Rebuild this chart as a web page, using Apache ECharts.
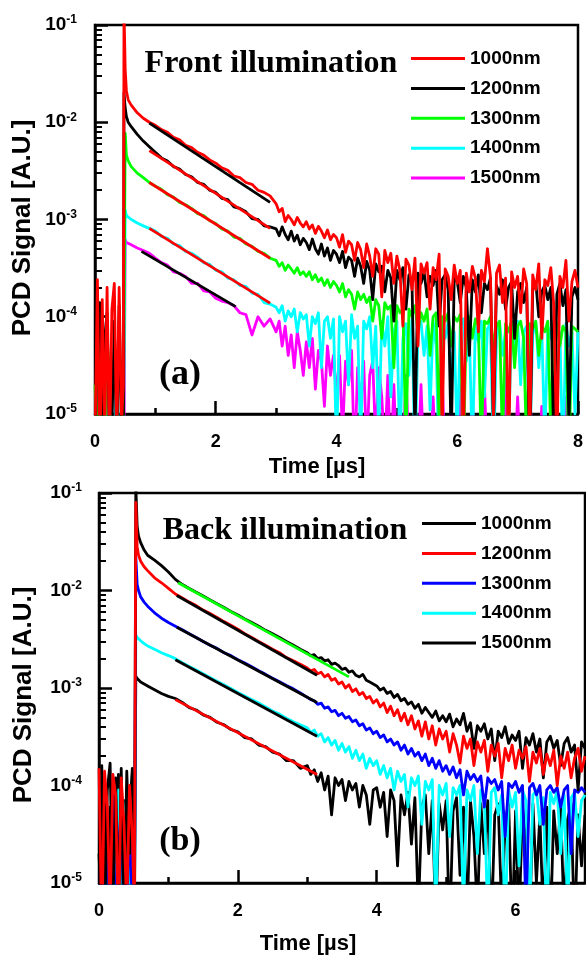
<!DOCTYPE html>
<html>
<head>
<meta charset="utf-8">
<script src="https://cdn.jsdelivr.net/npm/echarts@6/dist/echarts.min.js"></script>
<style>
  html, body { margin: 0; padding: 0; background: #fff; }
  #pcd { width: 586px; height: 956px; }
</style>
</head>
<body>
<div id="pcd"></div>
<script>
// wavelengths shown in both legends
const waveLabels = ['1000nm', '1200nm', '1300nm', '1400nm', '1500nm']

// log axis ticks (A.U.)
const yMajor = [1e-5, 1e-4, 1e-3, 1e-2, 1e-1]
const yMinor = [
  2e-5, 3e-5, 4e-5, 5e-5, 6e-5, 7e-5, 8e-5, 9e-5,
  2e-4, 3e-4, 4e-4, 5e-4, 6e-4, 7e-4, 8e-4, 9e-4,
  2e-3, 3e-3, 4e-3, 5e-3, 6e-3, 7e-3, 8e-3, 9e-3,
  2e-2, 3e-2, 4e-2, 5e-2, 6e-2, 7e-2, 8e-2, 9e-2
]
const xMajorA = [0, 2, 4, 6, 8]
const xMinorA = [1, 3, 5, 7]
const xMajorB = [0, 2, 4, 6]
const xMinorB = [1, 3, 5]

// ---------- (a) front illumination, time in us ----------
const timesA = [
  0, 0.04, 0.08, 0.12, 0.16, 0.2, 0.24, 0.28, 0.32, 0.36, 0.4, 0.44, 0.47,
  0.48, 0.5, 0.52, 0.55, 0.6, 0.7, 0.8, 0.9,
  1.0, 1.1, 1.2, 1.3, 1.4, 1.5, 1.6, 1.7, 1.8, 1.9, 2.0, 2.1, 2.2, 2.3, 2.4, 2.5, 2.6, 2.7, 2.8, 2.9,
  3.0, 3.05, 3.1, 3.15, 3.2, 3.25, 3.3, 3.35, 3.4, 3.45,
  3.5, 3.55, 3.6, 3.65, 3.7, 3.75, 3.8, 3.85, 3.9, 3.95,
  4.0, 4.05, 4.1, 4.15, 4.2, 4.25, 4.3, 4.35, 4.4, 4.45,
  4.5, 4.55, 4.6, 4.65, 4.7, 4.75, 4.8, 4.85, 4.9, 4.95,
  5.0, 5.05, 5.1, 5.15, 5.2, 5.25, 5.3, 5.35, 5.4, 5.45,
  5.5, 5.55, 5.6, 5.65, 5.7, 5.75, 5.8, 5.85, 5.9, 5.95,
  6.0, 6.05, 6.1, 6.15, 6.2, 6.25, 6.3, 6.35, 6.4, 6.45,
  6.5, 6.55, 6.6, 6.65, 6.7, 6.75, 6.8, 6.85, 6.9, 6.95,
  7.0, 7.05, 7.1, 7.15, 7.2, 7.25, 7.3, 7.35, 7.4, 7.45,
  7.5, 7.55, 7.6, 7.65, 7.7, 7.75, 7.8, 7.85, 7.9, 7.95,
  8.0
]
const front1000 = [
  5e-6, 2.4e-4, 3e-6, 1.5e-4, 6e-6, 2e-4, 4e-6, 1.2e-4, 2.2e-4, 5e-6, 2e-4, 8e-6, 2e-5,
  0.15, 3.5e-2, 2.1e-2, 1.7e-2, 1.5e-2, 1.25e-2, 1.1e-2, 1.0e-2,
  9.3e-3, 8.4e-3, 7.9e-3, 7.0e-3, 6.6e-3, 5.8e-3, 5.5e-3, 4.9e-3, 4.6e-3, 4.1e-3,
  3.8e-3, 3.4e-3, 3.2e-3, 2.8e-3, 2.7e-3, 2.4e-3, 2.3e-3, 2.0e-3, 1.9e-3, 1.75e-3,
  1.45e-3, 1.2e-3, 1.3e-3, 9.5e-4, 1.1e-3, 1.0e-3, 8.8e-4, 1.05e-3, 9.2e-4, 8.4e-4,
  9.5e-4, 8.0e-4, 8.8e-4, 7.2e-4, 8.5e-4, 7.6e-4, 6.5e-4, 7.8e-4, 6.2e-4, 7.0e-4,
  6.5e-4, 5.2e-4, 7.0e-4, 4.6e-4, 6.0e-4, 5.5e-4, 3.8e-4, 5.8e-4, 4.9e-4, 3.2e-4,
  5.6e-4, 4.2e-4, 2.6e-4, 5.0e-4, 4.4e-4, 1.6e-4, 4.8e-4, 3.6e-4, 4.5e-4, 2.2e-4,
  4.2e-4, 3.0e-4, 8e-5, 3.9e-4, 3.4e-4, 1.9e-4, 4.0e-4, 5e-5, 3.5e-4, 2.8e-4,
  3.6e-4, 1.2e-4, 3.2e-4, 2.4e-4, 4.4e-4, 6e-6, 3.1e-4, 2.6e-4, 1.5e-4, 3.4e-4,
  2.2e-4, 3.0e-4, 4e-6, 2.8e-4, 1.8e-4, 3.3e-4, 2.5e-4, 7e-5, 3.0e-4, 2.3e-4,
  5.0e-4, 2.6e-4, 9e-6, 2.8e-4, 3.4e-4, 1.4e-4, 2.5e-4, 3e-6, 2.9e-4, 2.0e-4,
  2.6e-4, 1.1e-4, 3.1e-4, 2.2e-4, 5e-6, 2.7e-4, 1.9e-4, 3.5e-4, 6e-5, 2.4e-4,
  2.1e-4, 3.2e-4, 1.3e-4, 4e-6, 2.6e-4, 2.0e-4, 3.8e-4, 9e-5, 2.3e-4, 3.0e-4,
  2.0e-4
]
const front1200 = [
  3e-6, 8e-5, 1.4e-4, 4e-6, 6e-5, 1.1e-4, 5e-6, 7e-6, 9e-5, 4e-6, 1.3e-4, 6e-6, 3e-6,
  2e-2, 1.4e-2, 1.15e-2, 1.0e-2, 9e-3, 7.5e-3, 6.4e-3, 5.6e-3,
  4.9e-3, 4.3e-3, 4.0e-3, 3.5e-3, 3.3e-3, 2.9e-3, 2.75e-3, 2.4e-3, 2.3e-3, 2.0e-3,
  1.9e-3, 1.65e-3, 1.6e-3, 1.35e-3, 1.3e-3, 1.2e-3, 1.02e-3, 1.0e-3, 8.6e-4, 8.4e-4,
  8.0e-4, 6.8e-4, 8.4e-4, 7.0e-4, 6.2e-4, 7.6e-4, 6.0e-4, 6.9e-4, 5.5e-4, 6.4e-4,
  5.8e-4, 4.9e-4, 6.3e-4, 5.0e-4, 4.4e-4, 5.6e-4, 4.2e-4, 5.1e-4, 3.8e-4, 4.8e-4,
  4.4e-4, 3.6e-4, 4.7e-4, 3.2e-4, 4.1e-4, 3.8e-4, 2.6e-4, 4.0e-4, 3.3e-4, 2.2e-4,
  3.7e-4, 3.0e-4, 1.5e-4, 3.5e-4, 2.9e-4, 3.3e-4, 1.8e-4, 3.0e-4, 2.5e-4, 9e-5,
  3.0e-4, 2.4e-4, 3.2e-4, 1.2e-4, 2.7e-4, 2.3e-4, 6e-6, 2.8e-4, 2.2e-4, 2.9e-4,
  1.6e-4, 2.6e-4, 2.1e-4, 3.0e-4, 8e-5, 2.4e-4, 2.7e-4, 1.9e-4, 5e-6, 2.5e-4,
  2.3e-4, 1.4e-4, 2.6e-4, 2.0e-4, 4e-5, 2.4e-4, 1.8e-4, 2.7e-4, 1.1e-4, 2.2e-4,
  1.9e-4, 2.5e-4, 7e-6, 2.1e-4, 1.7e-4, 2.4e-4, 1.2e-4, 2.0e-4, 2.3e-4, 6e-5,
  1.8e-4, 2.2e-4, 1.4e-4, 2.0e-4, 3e-6, 1.9e-4, 2.3e-4, 1.0e-4, 1.8e-4, 2.1e-4,
  1.5e-4, 2.0e-4, 4e-6, 1.7e-4, 2.2e-4, 1.3e-4, 1.9e-4, 8e-6, 1.6e-4, 2.0e-4,
  1.5e-4
]
const front1300 = [
  2e-5, 4e-6, 5e-5, 8e-6, 3e-6, 6e-5, 2.5e-5, 4e-6, 3e-6, 7e-6, 4e-5, 3e-5, 6e-6,
  6e-6, 7.7e-3, 4.6e-3, 4.0e-3, 3.5e-3, 3.0e-3, 2.7e-3, 2.4e-3,
  2.2e-3, 2.05e-3, 1.8e-3, 1.7e-3, 1.5e-3, 1.42e-3, 1.3e-3, 1.15e-3, 1.1e-3, 9.7e-4,
  9.1e-4, 8.0e-4, 7.6e-4, 6.6e-4, 6.4e-4, 5.6e-4, 5.3e-4, 4.7e-4, 4.5e-4, 4.0e-4,
  3.8e-4, 3.3e-4, 3.6e-4, 3.0e-4, 3.4e-4, 3.1e-4, 2.8e-4, 3.2e-4, 2.7e-4, 2.9e-4,
  2.6e-4, 2.9e-4, 2.4e-4, 2.7e-4, 2.3e-4, 2.5e-4, 2.1e-4, 2.4e-4, 2.0e-4, 2.3e-4,
  2.1e-4, 1.8e-4, 2.2e-4, 1.6e-4, 1.9e-4, 1.7e-4, 1.2e-4, 1.8e-4, 1.5e-4, 1.7e-4,
  1.4e-4, 1.6e-4, 9e-5, 1.5e-4, 1.3e-4, 6e-5, 1.4e-4, 1.2e-4, 1.3e-4, 3e-5,
  1.3e-4, 1.1e-4, 1.2e-4, 5e-6, 1.2e-4, 1.0e-4, 1.3e-4, 7e-5, 1.1e-4, 9e-5,
  1.2e-4, 4e-5, 1.0e-4, 1.1e-4, 8e-6, 1.0e-4, 9e-5, 1.1e-4, 5e-5, 1.0e-4,
  9e-5, 1.05e-4, 3e-6, 9e-5, 1.0e-4, 6e-5, 9.5e-5, 8e-5, 4e-6, 9e-5,
  8.5e-5, 1.0e-4, 5e-5, 8e-5, 9e-5, 5e-6, 8.5e-5, 7e-5, 9e-5, 3e-5,
  8e-5, 9e-5, 6e-5, 4e-6, 8.5e-5, 7.5e-5, 9e-5, 4e-5, 8e-5, 7e-5,
  9e-5, 6e-6, 7.5e-5, 8.5e-5, 5e-5, 8e-5, 7e-5, 3e-6, 8e-5, 7.5e-5,
  7e-5
]
const front1400 = [
  3e-6, 3e-5, 1.5e-5, 4e-6, 4e-5, 5e-6, 2e-5, 3e-6, 6e-6, 2.5e-5, 4e-6, 3e-6, 5e-6,
  5e-6, 1.25e-3, 1.1e-3, 1.05e-3, 1.0e-3, 9.2e-4, 8.6e-4, 8.1e-4,
  7.6e-4, 6.7e-4, 6.4e-4, 5.6e-4, 5.4e-4, 4.7e-4, 4.5e-4, 4.1e-4, 3.6e-4, 3.45e-4,
  3.0e-4, 2.9e-4, 2.5e-4, 2.4e-4, 2.1e-4, 2.05e-4, 1.75e-4, 1.7e-4, 1.4e-4, 1.35e-4,
  1.25e-4, 1.1e-4, 1.3e-4, 9e-5, 1.15e-4, 1.0e-4, 1.2e-4, 7e-5, 1.1e-4, 9.5e-5,
  1.05e-4, 5e-5, 1.0e-4, 8.5e-5, 1.1e-4, 3e-5, 9e-5, 1.0e-4, 6e-5, 9.5e-5,
  4e-6, 1.0e-4, 7e-5, 9e-5, 2e-5, 1.05e-4, 6e-5, 8e-5, 5e-6, 9e-5,
  7.5e-5, 1e-4, 3e-5, 8e-5, 6e-6, 9e-5, 5e-5, 1.0e-4, 1.5e-5, 7e-5,
  9e-5, 4e-6, 6e-5, 8.5e-5, 2.5e-5, 9.5e-5, 3e-6, 7e-5, 9e-5, 4e-5,
  8e-5, 1.1e-5, 9e-5, 5e-5, 3e-6, 8.5e-5, 6e-5, 9e-5, 2e-5, 7e-5,
  5e-6, 8e-5, 9.5e-5, 3.5e-5, 7e-5, 4e-6, 8e-5, 5.5e-5, 9e-5, 1.5e-5,
  7.5e-5, 8.5e-5, 3e-6, 6e-5, 9e-5, 4e-5, 7e-5, 6e-6, 8e-5, 5e-5,
  9e-5, 2e-5, 7e-5, 8e-5, 4e-6, 6.5e-5, 9e-5, 3e-5, 7.5e-5, 5e-6,
  8e-5, 6e-5, 9e-5, 2.5e-5, 7e-5, 3e-6, 8.5e-5, 5e-5, 7e-5, 1e-5,
  7e-5
]
const front1500 = [
  3e-6, 3e-6, 3e-6, 3e-6, 3e-6, 3e-6, 3e-6, 3e-6, 3e-6, 2e-5, 3e-6, 3e-6, 3e-6,
  4e-6, 6.2e-4, 5.8e-4, 5.7e-4, 5.5e-4, 5.1e-4, 4.8e-4, 4.5e-4,
  4.0e-4, 3.6e-4, 3.4e-4, 2.9e-4, 2.8e-4, 2.6e-4, 2.2e-4, 2.2e-4, 1.85e-4, 1.8e-4,
  1.55e-4, 1.45e-4, 1.4e-4, 1.3e-4, 1.1e-4, 1.05e-4, 6.5e-5, 1.0e-4, 8e-5, 9.5e-5,
  7e-5, 9e-5, 5e-5, 8e-5, 4e-5, 6.5e-5, 3e-5, 7e-5, 4.5e-5, 2.5e-5,
  5.5e-5, 3e-5, 6e-5, 1.8e-5, 4.5e-5, 3.5e-5, 1.2e-5, 5e-5, 2.5e-5, 4e-5,
  1.5e-5, 4e-5, 6e-6, 3.5e-5, 2e-5, 4.5e-5, 3e-6, 3e-5, 1.2e-5, 3.5e-5,
  4e-6, 2.5e-5, 3.5e-5, 5e-6, 3e-5, 1.5e-5, 4e-6, 2.5e-5, 3e-6, 2e-5,
  3e-6, 1.5e-5, 3e-6, 2.5e-5, 4e-6, 3e-6, 1.2e-5, 3e-6, 2e-5, 3e-6,
  3e-6, 3e-6, 1.5e-5, 3e-6, 3e-6, 2.5e-5, 3e-6, 3e-6, 1.2e-5, 3e-6,
  3e-6, 2e-5, 3e-6, 3e-6, 3e-6, 1.5e-5, 3e-6, 3e-6, 3e-6, 2e-5,
  3e-6, 3e-6, 1.2e-5, 3e-6, 3e-6, 3e-6, 2.5e-5, 3e-6, 3e-6, 3e-6,
  1.5e-5, 3e-6, 3e-6, 3e-6, 2e-5, 3e-6, 3e-6, 3e-6, 1.2e-5, 3e-6,
  3e-6, 3e-6, 2e-5, 3e-6, 3e-6, 3e-6, 1.5e-5, 3e-6, 3e-6, 3e-6,
  3e-6
]
// straight fits drawn over the (a) traces: [t, signal]
const fitFront1000 = [[0.9, 9.8e-3], [2.9, 1.5e-3]]
const fitFront1200 = [[0.9, 5.1e-3], [2.9, 8.1e-4]]
const fitFront1300 = [[0.9, 2.4e-3], [2.9, 4.0e-4]]
const fitFront1400 = [[0.9, 8.1e-4], [2.9, 1.38e-4]]
const fitFront1500 = [[0.77, 4.7e-4], [2.33, 1.27e-4]]

// ---------- (b) back illumination ----------
const timesB = [
  0, 0.04, 0.08, 0.12, 0.16, 0.2, 0.24, 0.28, 0.32, 0.36, 0.4, 0.44, 0.48, 0.51,
  0.53, 0.55, 0.57, 0.6, 0.65, 0.7, 0.8, 0.9, 1.0,
  1.1, 1.2, 1.3, 1.4, 1.5, 1.6, 1.7, 1.8, 1.9, 2.0, 2.1, 2.2, 2.3, 2.4, 2.5, 2.6, 2.7, 2.8, 2.9,
  3.0, 3.05, 3.1, 3.15, 3.2, 3.25, 3.3, 3.35, 3.4, 3.45,
  3.5, 3.55, 3.6, 3.65, 3.7, 3.75, 3.8, 3.85, 3.9, 3.95,
  4.0, 4.05, 4.1, 4.15, 4.2, 4.25, 4.3, 4.35, 4.4, 4.45,
  4.5, 4.55, 4.6, 4.65, 4.7, 4.75, 4.8, 4.85, 4.9, 4.95,
  5.0, 5.05, 5.1, 5.15, 5.2, 5.25, 5.3, 5.35, 5.4, 5.45,
  5.5, 5.55, 5.6, 5.65, 5.7, 5.75, 5.8, 5.85, 5.9, 5.95,
  6.0, 6.05, 6.1, 6.15, 6.2, 6.25, 6.3, 6.35, 6.4, 6.45,
  6.5, 6.55, 6.6, 6.65, 6.7, 6.75, 6.8, 6.85, 6.9, 6.95,
  7.0
]
const back1000 = [
  4e-6, 1.6e-4, 3e-6, 9e-5, 1.7e-4, 5e-6, 1.2e-4, 4e-6, 1.5e-4, 3e-6, 1.4e-4, 2e-5, 1.3e-4, 4e-6,
  0.12, 4.5e-2, 3.6e-2, 3.1e-2, 2.6e-2, 2.3e-2, 2.05e-2, 1.8e-2, 1.55e-2,
  1.3e-2, 1.15e-2, 1.05e-2, 9.6e-3, 8.8e-3, 8.0e-3, 7.3e-3, 6.7e-3, 6.1e-3, 5.6e-3,
  5.1e-3, 4.7e-3, 4.3e-3, 3.9e-3, 3.6e-3, 3.3e-3, 3.0e-3, 2.75e-3, 2.5e-3,
  2.3e-3, 2.15e-3, 2.2e-3, 2.0e-3, 2.05e-3, 1.9e-3, 1.95e-3, 1.75e-3, 1.8e-3, 1.7e-3,
  1.55e-3, 1.6e-3, 1.45e-3, 1.5e-3, 1.35e-3, 1.3e-3, 1.38e-3, 1.2e-3, 1.15e-3, 1.1e-3,
  1.05e-3, 9.5e-4, 1.0e-3, 8.8e-4, 9.2e-4, 8.0e-4, 8.6e-4, 7.4e-4, 7.8e-4, 6.8e-4,
  7.2e-4, 6.2e-4, 6.8e-4, 5.5e-4, 6.3e-4, 5.6e-4, 5.0e-4, 5.8e-4, 4.6e-4, 5.2e-4,
  4.5e-4, 5.4e-4, 4.0e-4, 4.8e-4, 4.2e-4, 5.5e-4, 3.6e-4, 4.4e-4, 2.4e-4, 4.1e-4,
  3.6e-4, 4.3e-4, 3.0e-4, 3.8e-4, 1.8e-4, 3.6e-4, 3.1e-4, 4.0e-4, 2.7e-4, 3.3e-4,
  2.9e-4, 3.6e-4, 1.5e-4, 3.1e-4, 2.6e-4, 3.4e-4, 2.2e-4, 3.0e-4, 1.2e-4, 2.8e-4,
  3.2e-4, 2.4e-4, 2.9e-4, 1.6e-4, 2.7e-4, 3.1e-4, 2.2e-4, 2.6e-4, 9e-5, 2.8e-4,
  2.4e-4
]
const back1200 = [
  1.5e-4, 3e-6, 1.4e-4, 6e-5, 5e-6, 1.3e-4, 8e-5, 3e-6, 1.2e-4, 4e-5, 5e-6, 1.0e-4, 3e-5, 5e-6,
  8e-2, 2.8e-2, 2.3e-2, 2.0e-2, 1.75e-2, 1.6e-2, 1.35e-2, 1.2e-2, 1.05e-2,
  9.2e-3, 8.4e-3, 7.6e-3, 7.0e-3, 6.3e-3, 5.8e-3, 5.3e-3, 4.8e-3, 4.4e-3, 4.0e-3,
  3.6e-3, 3.3e-3, 3.0e-3, 2.75e-3, 2.5e-3, 2.3e-3, 2.05e-3, 1.9e-3, 1.75e-3,
  1.6e-3, 1.5e-3, 1.55e-3, 1.4e-3, 1.45e-3, 1.3e-3, 1.38e-3, 1.2e-3, 1.25e-3, 1.1e-3,
  1.15e-3, 1.0e-3, 1.08e-3, 9.2e-4, 9.8e-4, 8.5e-4, 9.0e-4, 7.8e-4, 8.2e-4, 7.0e-4,
  7.6e-4, 6.4e-4, 7.0e-4, 5.6e-4, 6.5e-4, 5.2e-4, 6.0e-4, 4.6e-4, 5.5e-4, 4.2e-4,
  5.2e-4, 3.8e-4, 4.6e-4, 3.2e-4, 4.5e-4, 3.0e-4, 4.1e-4, 2.6e-4, 3.8e-4, 3.0e-4,
  3.6e-4, 2.2e-4, 3.4e-4, 2.6e-4, 1.7e-4, 3.2e-4, 2.4e-4, 3.0e-4, 1.6e-4, 2.8e-4,
  2.2e-4, 2.9e-4, 1.4e-4, 2.6e-4, 2.0e-4, 2.7e-4, 1.2e-4, 2.4e-4, 1.8e-4, 2.6e-4,
  1.5e-4, 2.3e-4, 1.9e-4, 2.5e-4, 1.1e-4, 2.2e-4, 1.7e-4, 2.4e-4, 1.3e-4, 2.1e-4,
  1.6e-4, 2.3e-4, 1.0e-4, 2.0e-4, 1.5e-4, 2.2e-4, 1.2e-4, 1.9e-4, 2.4e-4, 1.4e-4,
  2.0e-4
]
const back1300 = [
  3e-6, 7e-5, 4e-6, 3e-5, 5e-6, 8e-5, 3e-6, 2e-5, 6e-5, 4e-6, 3e-6, 7e-5, 4e-6, 3e-6,
  2.25e-2, 1.15e-2, 1.0e-2, 8.6e-3, 7.6e-3, 6.9e-3, 5.9e-3, 5.2e-3, 4.7e-3,
  4.3e-3, 3.95e-3, 3.6e-3, 3.3e-3, 3.0e-3, 2.75e-3, 2.55e-3, 2.3e-3, 2.15e-3, 1.95e-3,
  1.8e-3, 1.65e-3, 1.5e-3, 1.38e-3, 1.26e-3, 1.16e-3, 1.06e-3, 9.8e-4, 8.9e-4,
  8.0e-4, 7.6e-4, 7.4e-4, 6.8e-4, 7.0e-4, 6.2e-4, 6.4e-4, 5.7e-4, 5.9e-4, 5.2e-4,
  5.5e-4, 4.9e-4, 5.1e-4, 4.5e-4, 4.7e-4, 4.1e-4, 4.3e-4, 3.7e-4, 3.9e-4, 3.4e-4,
  3.6e-4, 3.1e-4, 3.3e-4, 2.8e-4, 3.0e-4, 2.6e-4, 2.8e-4, 2.3e-4, 2.6e-4, 2.1e-4,
  2.4e-4, 2.0e-4, 2.2e-4, 1.8e-4, 2.1e-4, 1.6e-4, 1.9e-4, 1.5e-4, 1.8e-4, 1.4e-4,
  1.6e-4, 1.3e-4, 1.55e-4, 1.2e-4, 1.45e-4, 8e-5, 1.4e-4, 1.15e-4, 1.3e-4, 1.1e-4,
  1.25e-4, 6e-5, 1.2e-4, 1.05e-4, 1.15e-4, 9e-5, 1.1e-4, 3e-5, 1.05e-4, 9.5e-5,
  1.1e-4, 8.5e-5, 1.0e-4, 5e-6, 9.5e-5, 1.05e-4, 8e-5, 1.0e-4, 4e-5, 9e-5,
  1.0e-4, 8.5e-5, 9.5e-5, 6e-5, 9e-5, 1.0e-4, 2e-5, 9e-5, 8.5e-5, 9.5e-5,
  8.5e-5
]
const back1400 = [
  4e-6, 3e-6, 2e-5, 5e-6, 4e-6, 6e-5, 3e-6, 9e-5, 5e-6, 4e-5, 8e-5, 3e-6, 6e-5, 4e-6,
  3.5e-3, 3.3e-3, 3.2e-3, 3.05e-3, 2.85e-3, 2.7e-3, 2.5e-3, 2.3e-3, 2.15e-3,
  2.0e-3, 1.82e-3, 1.66e-3, 1.53e-3, 1.4e-3, 1.28e-3, 1.17e-3, 1.08e-3, 9.9e-4, 9.0e-4,
  8.3e-4, 7.6e-4, 7.0e-4, 6.4e-4, 5.8e-4, 5.4e-4, 4.9e-4, 4.5e-4, 4.2e-4,
  3.9e-4, 3.5e-4, 3.7e-4, 3.2e-4, 3.4e-4, 2.8e-4, 3.1e-4, 2.6e-4, 2.9e-4, 2.3e-4,
  2.7e-4, 2.2e-4, 2.5e-4, 1.9e-4, 2.3e-4, 1.8e-4, 2.1e-4, 1.5e-4, 1.9e-4, 1.6e-4,
  1.8e-4, 1.3e-4, 1.6e-4, 1.2e-4, 1.5e-4, 9e-5, 1.4e-4, 1.1e-4, 1.3e-4, 6e-5,
  1.2e-4, 1.0e-4, 1.25e-4, 4e-5, 1.1e-4, 9e-5, 1.15e-4, 5e-6, 1.0e-4, 8e-5,
  1.05e-4, 3e-5, 9.5e-5, 8e-5, 1.0e-4, 5e-6, 9e-5, 7e-5, 1.0e-4, 2e-5,
  9e-5, 7.5e-5, 4e-6, 8.5e-5, 9.5e-5, 5e-5, 8e-5, 3e-6, 9e-5, 6e-5,
  8.5e-5, 1.5e-5, 9e-5, 7e-5, 4e-6, 8e-5, 9e-5, 4e-5, 7.5e-5, 3e-6,
  8.5e-5, 6.5e-5, 9e-5, 2e-5, 8e-5, 5e-6, 7.5e-5, 8.5e-5, 3e-5, 7e-5,
  8e-5
]
const back1500 = [
  2e-5, 4e-6, 1.1e-4, 3e-6, 6e-5, 5e-6, 3e-5, 1.3e-4, 4e-6, 7e-5, 3e-6, 5e-5, 1.5e-4, 3e-6,
  1.32e-3, 1.25e-3, 1.2e-3, 1.15e-3, 1.1e-3, 1.05e-3, 9.6e-4, 8.8e-4, 8.2e-4,
  7.8e-4, 7.1e-4, 6.3e-4, 5.95e-4, 5.3e-4, 5.0e-4, 4.45e-4, 4.2e-4, 3.75e-4, 3.55e-4,
  3.1e-4, 3.0e-4, 2.6e-4, 2.5e-4, 2.2e-4, 2.1e-4, 1.8e-4, 1.8e-4, 1.5e-4,
  1.6e-4, 1.3e-4, 1.45e-4, 1.1e-4, 1.35e-4, 9e-5, 1.25e-4, 5e-5, 1.2e-4, 1.0e-4,
  1.15e-4, 7e-5, 1.1e-4, 9e-5, 1.05e-4, 6e-5, 1.0e-4, 8e-5, 4e-5, 9e-5,
  9.5e-5, 6e-5, 8.5e-5, 3e-5, 9e-5, 7e-5, 1.5e-5, 8e-5, 5e-5, 8.5e-5,
  2.5e-5, 7.5e-5, 5e-6, 6e-5, 8e-5, 2e-5, 7e-5, 4e-6, 6.5e-5, 3.5e-5,
  7e-5, 3e-6, 5.5e-5, 7.5e-5, 1.2e-5, 6e-5, 4e-6, 7e-5, 3e-5, 5e-6,
  6.5e-5, 2e-5, 7e-5, 3e-6, 5e-5, 6.5e-5, 5e-6, 4e-5, 7e-5, 3e-6,
  5.5e-5, 4e-6, 6e-5, 2.5e-5, 3e-6, 6.5e-5, 1e-5, 5e-5, 4e-6, 6e-5,
  3e-6, 5.5e-5, 2e-5, 6e-5, 4e-6, 4.5e-5, 6.5e-5, 3e-6, 5e-5, 1.5e-5,
  5e-5
]
const fitBack1000 = [[1.14, 1.2e-2], [3.6, 1.3e-3]]
const fitBack1200 = [[1.12, 8.9e-3], [3.14, 1.35e-3]]
const fitBack1300 = [[1.12, 4.2e-3], [3.14, 7.1e-4]]
const fitBack1400 = [[1.1, 1.95e-3], [3.14, 3.2e-4]]
const fitBack1500 = [[1.1, 7.6e-4], [3.14, 1.3e-4]]

const SANS = '"Liberation Sans", Arial, sans-serif'
const SERIF = '"Liberation Serif", "Times New Roman", serif'

const RED = '#ff0000'
const BLACK = '#000000'
const GREEN = '#00ff00'
const CYAN = '#00ffff'
const MAGENTA = '#ff00ff'
const BLUE = '#0000ff'

const legendText = {
  A1000: waveLabels[0], A1200: waveLabels[1], A1300: waveLabels[2], A1400: waveLabels[3], A1500: waveLabels[4],
  B1000: waveLabels[0], B1200: waveLabels[1], B1300: waveLabels[2], B1400: waveLabels[3], B1500: waveLabels[4]
}

function trace (name, times, vals, color, panel) {
  return {
    type: 'line',
    name,
    xAxisIndex: panel * 2,
    yAxisIndex: panel * 2,
    data: times.map((t, i) => [t, vals[i]]),
    symbol: 'none',
    silent: true,
    itemStyle: { color },
    lineStyle: { color, width: 2.8, join: 'round' }
  }
}

function fit (pts, color, panel) {
  return {
    type: 'line',
    xAxisIndex: panel * 2,
    yAxisIndex: panel * 2,
    data: pts,
    symbol: 'none',
    silent: true,
    lineStyle: { color, width: 2.8 }
  }
}

function xPair (gridIndex, max, major, minor) {
  const base = { type: 'value', gridIndex, min: 0, max, position: 'bottom', splitLine: { show: false } }
  return [
    Object.assign({}, base, {
      axisLine: { lineStyle: { color: '#000', width: 2.5 } },
      axisTick: { inside: true, length: 13, customValues: major, lineStyle: { color: '#000', width: 2.5 } },
      axisLabel: { customValues: major, margin: 19, color: '#000', fontSize: 18, fontWeight: 'bold', fontFamily: SANS }
    }),
    Object.assign({}, base, {
      axisLine: { show: false },
      axisTick: { inside: true, length: 6, customValues: minor, lineStyle: { color: '#000', width: 2.5 } },
      axisLabel: { show: false }
    })
  ]
}

function yPair (gridIndex, margin) {
  const base = { type: 'log', logBase: 10, gridIndex, min: 1e-5, max: 1e-1, position: 'left', splitLine: { show: false } }
  return [
    Object.assign({}, base, {
      axisLine: { lineStyle: { color: '#000', width: 2.5 } },
      axisTick: { inside: true, length: 13, customValues: yMajor, lineStyle: { color: '#000', width: 2.5 } },
      axisLabel: {
        customValues: yMajor,
        margin,
        color: '#000',
        formatter: v => '{b|10}{s|' + Math.round(Math.log10(v)) + '}',
        rich: {
          b: { fontSize: 19, fontWeight: 'bold', fontFamily: SANS, color: '#000' },
          s: { fontSize: 12, fontWeight: 'bold', fontFamily: SANS, color: '#000', padding: [0, 0, 10, 0] }
        }
      }
    }),
    Object.assign({}, base, {
      axisLine: { show: false },
      axisTick: { inside: true, length: 7, customValues: yMinor, lineStyle: { color: '#000', width: 2 } },
      axisLabel: { show: false }
    })
  ]
}

function legend (names, left, top) {
  return {
    data: names,
    orient: 'vertical',
    left,
    top,
    padding: 0,
    icon: 'rect',
    itemWidth: 54,
    itemHeight: 3,
    itemGap: 10.9,
    selectedMode: false,
    formatter: n => legendText[n],
    textStyle: { color: '#000', fontSize: 19, fontWeight: 'bold', fontFamily: SANS }
  }
}

function label (text, x, y, size, family, rotate) {
  return {
    type: 'text',
    x,
    y,
    rotation: rotate ? Math.PI / 2 : 0,
    silent: true,
    style: { text, fill: '#000', fontSize: size, fontWeight: 'bold', fontFamily: family, textAlign: 'center', textVerticalAlign: 'middle' }
  }
}

const option = {
  animation: false,
  backgroundColor: '#fff',
  grid: [
    { left: 95, top: 25, width: 483, height: 389, show: true, borderColor: '#000', borderWidth: 2.5 },
    { left: 99, top: 493, width: 486, height: 390, show: true, borderColor: '#000', borderWidth: 2.5 }
  ],
  xAxis: [].concat(xPair(0, 8, xMajorA, xMinorA), xPair(1, 7, xMajorB, xMinorB)),
  yAxis: [].concat(yPair(0, 18), yPair(1, 17)),
  legend: [
    legend(['A1000', 'A1200', 'A1300', 'A1400', 'A1500'], 411, 49),
    legend(['B1000', 'B1200', 'B1300', 'B1400', 'B1500'], 422, 514)
  ],
  graphic: [
    label('Front illumination', 271, 64, 32, SERIF),
    label('(a)', 180, 375, 36, SERIF),
    label('Time [µs]', 317, 467, 22, SANS),
    label('PCD Signal [A.U.]', 23, 228, 26, SANS, true),
    label('Back illumination', 285, 531, 32, SERIF),
    label('(b)', 180, 841, 34, SERIF),
    label('Time [µs]', 308, 944, 22, SANS),
    label('PCD Signal [A.U.]', 24, 695, 26, SANS, true)
  ],
  series: [
    trace('A1500', timesA, front1500, MAGENTA, 0),
    trace('A1400', timesA, front1400, CYAN, 0),
    trace('A1300', timesA, front1300, GREEN, 0),
    trace('A1200', timesA, front1200, BLACK, 0),
    trace('A1000', timesA, front1000, RED, 0),
    fit(fitFront1000, BLACK, 0),
    fit(fitFront1200, RED, 0),
    fit(fitFront1300, RED, 0),
    fit(fitFront1400, RED, 0),
    fit(fitFront1500, BLACK, 0),

    trace('B1500', timesB, back1500, BLACK, 1),
    trace('B1400', timesB, back1400, CYAN, 1),
    trace('B1300', timesB, back1300, BLUE, 1),
    trace('B1000', timesB, back1000, BLACK, 1),
    trace('B1200', timesB, back1200, RED, 1),
    fit(fitBack1000, GREEN, 1),
    fit(fitBack1200, BLACK, 1),
    fit(fitBack1300, BLACK, 1),
    fit(fitBack1400, BLACK, 1),
    fit(fitBack1500, RED, 1)
  ]
}

const chart = echarts.init(document.getElementById('pcd'))
chart.setOption(option)
</script>
</body>
</html>
